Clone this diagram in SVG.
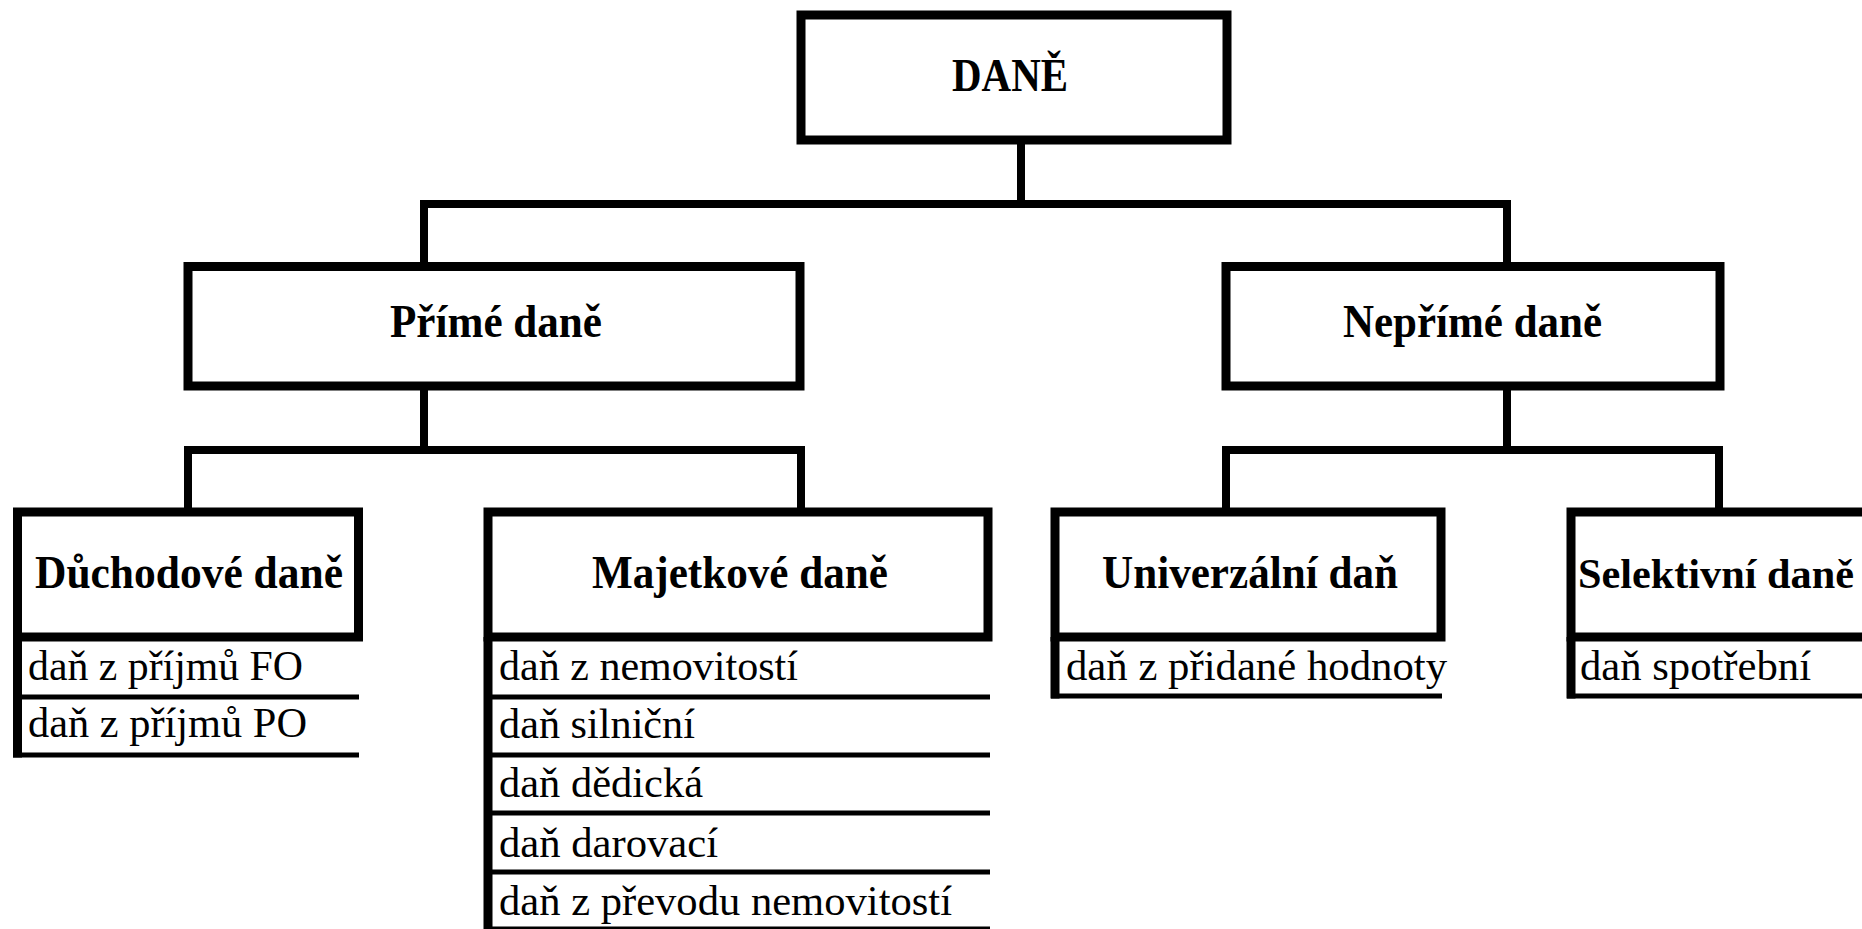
<svg xmlns="http://www.w3.org/2000/svg" width="1862" height="929" viewBox="0 0 1862 929">
<style>
.box{fill:#fff;stroke:#000;stroke-width:9}
.conn{fill:none;stroke:#000;stroke-width:8;stroke-linejoin:miter}
.side{stroke:#000;stroke-width:9}
.sep{stroke:#000;stroke-width:5}
.h{font-family:"Liberation Serif","Times New Roman",serif;font-weight:bold;font-size:46px;fill:#000}
.r{font-family:"Liberation Serif","Times New Roman",serif;font-size:42px;fill:#000}
</style>
<rect width="1862" height="929" fill="#fff"/>
<g id="connectors">
<path class="conn" d="M424 266 V204 H1507 V266"/>
<path class="conn" d="M1021 140 V204"/>
<path class="conn" d="M188 512 V450 H801 V512"/>
<path class="conn" d="M424 386 V450"/>
<path class="conn" d="M1226 512 V450 H1719 V512"/>
<path class="conn" d="M1507 386 V450"/>
</g>
<g id="node-dane">
<rect class="box" x="801" y="15" width="426" height="125"/>
<text class="h" x="952" y="91" textLength="116" lengthAdjust="spacingAndGlyphs">DANĚ</text>
</g>
<g id="node-prime">
<rect class="box" x="188" y="266.5" width="612" height="119.5"/>
<text class="h" x="390" y="337" textLength="212" lengthAdjust="spacingAndGlyphs">Přímé daně</text>
</g>
<g id="node-neprime">
<rect class="box" x="1226" y="266.5" width="494" height="119.5"/>
<text class="h" x="1343" y="337" textLength="259" lengthAdjust="spacingAndGlyphs">Nepřímé daně</text>
</g>
<g id="node-duchodove">
<rect class="box" x="17.5" y="512" width="341" height="125"/>
<line class="side" x1="17.5" y1="637" x2="17.5" y2="757.5"/>
<line class="sep" x1="13" y1="697" x2="359" y2="697"/>
<line class="sep" x1="13" y1="755" x2="359" y2="755"/>
<text class="h" x="35" y="588" textLength="308" lengthAdjust="spacingAndGlyphs">Důchodové daně</text>
<text class="r" x="28" y="680" textLength="275" lengthAdjust="spacingAndGlyphs">daň z příjmů FO</text>
<text class="r" x="28" y="737" textLength="279" lengthAdjust="spacingAndGlyphs">daň z příjmů PO</text>
</g>
<g id="node-majetkove">
<rect class="box" x="488" y="512" width="500" height="125"/>
<line class="side" x1="488" y1="637" x2="488" y2="929"/>
<line class="sep" x1="484" y1="697" x2="990" y2="697"/>
<line class="sep" x1="484" y1="755" x2="990" y2="755"/>
<line class="sep" x1="484" y1="813" x2="990" y2="813"/>
<line class="sep" x1="484" y1="872" x2="990" y2="872"/>
<line class="sep" x1="484" y1="929" x2="990" y2="929"/>
<text class="h" x="592" y="588" textLength="296" lengthAdjust="spacingAndGlyphs">Majetkové daně</text>
<text class="r" x="499" y="680" textLength="299" lengthAdjust="spacingAndGlyphs">daň z nemovitostí</text>
<text class="r" x="499" y="738" textLength="196" lengthAdjust="spacingAndGlyphs">daň silniční</text>
<text class="r" x="499" y="797" textLength="204" lengthAdjust="spacingAndGlyphs">daň dědická</text>
<text class="r" x="499" y="857" textLength="219" lengthAdjust="spacingAndGlyphs">daň darovací</text>
<text class="r" x="499" y="915" textLength="453" lengthAdjust="spacingAndGlyphs">daň z převodu nemovitostí</text>
</g>
<g id="node-univerzalni">
<rect class="box" x="1055" y="512" width="386" height="125"/>
<line class="side" x1="1055" y1="637" x2="1055" y2="698.5"/>
<line class="sep" x1="1051" y1="696" x2="1442" y2="696"/>
<text class="h" x="1102" y="588" textLength="296" lengthAdjust="spacingAndGlyphs">Univerzální daň</text>
<text class="r" x="1066" y="680" textLength="381" lengthAdjust="spacingAndGlyphs">daň z přidané hodnoty</text>
</g>
<g id="node-selektivni">
<path class="box" d="M1862 512 H1571 V637 H1862"/>
<line class="side" x1="1571" y1="637" x2="1571" y2="698.5"/>
<line class="sep" x1="1567" y1="696" x2="1862" y2="696"/>
<text class="h" x="1578" y="588" style="font-size:43px" textLength="276" lengthAdjust="spacingAndGlyphs">Selektivní daně</text>
<text class="r" x="1580" y="680" textLength="231" lengthAdjust="spacingAndGlyphs">daň spotřební</text>
</g>
</svg>
